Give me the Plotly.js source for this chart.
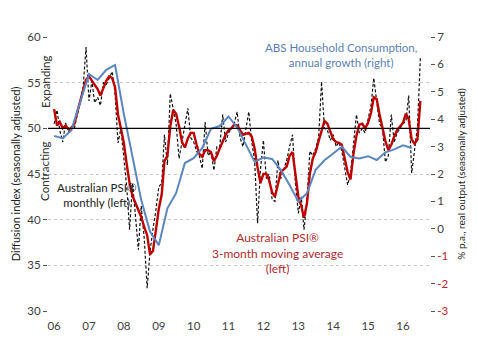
<!DOCTYPE html>
<html>
<head>
<meta charset="utf-8">
<script src="https://cdn.plot.ly/plotly-3.0.1.min.js"></script>
<style>html,body{margin:0;padding:0;background:#fff;}#chart{width:478px;height:351px;}</style>
</head>
<body>
<div id="chart"></div>
<script>
// Monthly series start Jan 2006; quarterly series start Q1 2006
const startYear = 2006;
const yearLabels = ['06','07','08','09','10','11','12','13','14','15','16'];

// Australian PSI, monthly (left axis)
const psiMonthly = [
 50.5,52.0,49.8,48.5,50.6,49.6,50.2,50.0,51.5,53.0,54.5,58.9,
 53.0,55.2,52.8,53.4,52.5,55.0,54.8,55.5,56.2,53.8,48.4,50.0,
 47.0,43.5,38.9,44.0,40.5,36.7,41.5,38.0,32.5,36.5,39.0,41.0,
 43.6,44.0,49.3,46.0,53.8,52.0,50.5,46.7,48.5,50.0,52.2,49.0,
 48.5,47.5,47.0,45.6,50.7,47.0,47.5,45.4,48.0,48.0,51.5,48.5,
 49.5,50.0,50.5,51.8,49.0,48.0,49.8,51.8,48.5,46.5,39.6,45.5,
 48.7,44.5,45.0,42.2,42.0,46.5,44.5,45.5,46.5,48.0,49.3,44.0,
 40.7,42.5,38.9,42.0,47.5,47.0,47.8,49.0,55.1,50.0,49.8,48.7,
 49.3,48.0,48.5,47.5,45.8,43.8,45.0,48.5,51.5,49.5,50.0,49.5,
 51.0,52.5,55.5,53.0,50.5,50.0,46.3,47.0,51.5,48.5,49.5,50.0,
 50.5,50.8,53.6,45.1,47.5,50.2,57.7
];

// Australian PSI, 3-month moving average (left axis)
const psi3mma = [
 52.1,50.3,50.7,50.0,50.3,49.9,50.0,50.5,51.8,53.0,54.0,55.3,
 55.7,55.2,54.7,54.3,53.6,54.4,55.2,55.7,55.5,54.5,51.5,50.0,
 48.4,46.0,44.0,42.6,41.9,41.0,40.3,39.2,38.3,36.2,36.6,38.8,
 41.2,42.8,46.4,47.0,50.2,52.0,51.6,50.2,48.5,47.9,48.9,49.5,
 49.5,48.2,47.2,46.9,47.6,47.6,47.4,46.4,47.0,47.8,48.6,49.3,
 49.8,50.0,50.4,50.3,49.8,49.3,49.4,49.5,49.1,47.8,45.7,44.0,
 45.0,45.0,44.3,43.0,42.5,43.8,45.2,45.5,45.8,47.0,47.4,45.0,
 42.5,41.5,40.2,41.8,45.0,46.7,47.4,48.6,49.8,50.8,50.5,49.6,
 48.8,48.5,48.4,48.2,46.6,45.2,44.4,47.2,49.2,50.4,50.5,50.0,
 50.6,51.7,53.4,53.2,51.5,50.0,48.6,47.6,48.2,49.1,49.8,50.2,
 50.6,51.6,51.0,48.8,48.3,48.8,53.0
];

// ABS household consumption, annual growth, quarterly (right axis, % p.a.)
const absConsumption = [
 3.39,3.30,3.60,4.60,5.65,5.43,5.80,5.98,4.19,2.62,1.05,-0.10,
 -0.60,0.75,1.30,2.40,2.58,2.95,3.65,3.75,4.10,3.70,3.10,2.45,
 2.60,2.55,2.15,1.60,0.99,1.30,2.15,2.50,2.75,3.00,2.62,2.57,
 2.65,2.51,2.79,2.90,3.05,2.95
];

function monthDate(i){
  const y = startYear + Math.floor(i/12);
  const m = (i%12)+1;
  return y + '-' + (m<10?'0':'') + m + '-01';
}
const monthlyDates = psiMonthly.map((_,i)=>monthDate(i));
const quarterlyDates = absConsumption.map((_,i)=>monthDate(i*3));
const tickDates = yearLabels.map((_,i)=>(startYear+i)+'-01-01');

const rightTicks = [-3,-2,-1,0,1,2,3,4,5,6,7];
const rightTickText = rightTicks.map(v => v<0 ? '<span style="color:#c0272d">'+v+'</span>' : String(v));

const FONT = 'Lato, "Open Sans", sans-serif';

const traces = [
 {x: quarterlyDates, y: absConsumption, yaxis:'y2', type:'scatter', mode:'lines',
  line:{color:'#5b86bf', width:2}, hoverinfo:'skip'},
 {x: monthlyDates, y: psiMonthly, type:'scatter', mode:'lines',
  line:{color:'#111111', width:1.2, dash:'3px,2px'}, hoverinfo:'skip'},
 {x: monthlyDates, y: psi3mma, type:'scatter', mode:'lines',
  line:{color:'#c00000', width:2.4}, hoverinfo:'skip'}
];

const layout = {
 width:478, height:351,
 margin:{l:48, r:48, t:37, b:40},
 paper_bgcolor:'#ffffff', plot_bgcolor:'#ffffff',
 showlegend:false,
 font:{family:FONT, size:11, color:'#404040'},
 xaxis:{type:'date', range:['2005-10-29','2016-10-10'], tickvals:tickDates, ticktext:yearLabels,
   showgrid:false, zeroline:false, showline:false, ticks:'', ticklabelstandoff:6,
   tickfont:{size:11.5, color:'#404040'}},
 yaxis:{range:[30,60], dtick:5, tick0:30, showgrid:true, gridcolor:'#c8c8c8', griddash:'dot', gridwidth:1,
   zeroline:false, showline:false, ticks:'outside', ticklen:4, tickcolor:'#555', tickfont:{size:11.5, color:'#404040'},
   title:{text:'Diffusion index (seasonally adjusted)', font:{size:11, color:'#222'}, standoff:4}},
 yaxis2:{overlaying:'y', side:'right', range:[-3,7], tickvals:rightTicks, ticktext:rightTickText,
   showgrid:false, zeroline:false, showline:false, ticks:'outside', ticklen:4, tickcolor:'#555',
   tickfont:{size:11.5, color:'#404040'},
   title:{text:'% p.a., real output (seasonally adjusted)', font:{size:10, color:'#222'}, standoff:10}},
 shapes:[
  {type:'line', xref:'paper', x0:0, x1:1, yref:'y', y0:50, y1:50, line:{color:'#000', width:1.3}}
 ],
 annotations:[
  {xref:'paper', yref:'paper', x:0.767, y:0.934, text:'ABS Household Consumption,<br>annual growth (right)',
   showarrow:false, xanchor:'center', yanchor:'middle', font:{size:11.5, color:'#5b7fb5'}},
  {xref:'paper', yref:'paper', x:0.126, y:0.423, text:'Australian PSI®<br>monthly (left)',
   showarrow:false, xanchor:'center', yanchor:'middle', font:{size:11.5, color:'#222'}},
  {xref:'paper', yref:'paper', x:0.6, y:0.21, text:'Australian PSI®<br>3-month moving average<br>(left)',
   showarrow:false, xanchor:'center', yanchor:'middle', font:{size:12, color:'#b22a2e'}},
  {xref:'paper', yref:'paper', x:-0.008, y:0.839, text:'Expanding', textangle:-90,
   showarrow:false, xanchor:'center', yanchor:'middle', font:{size:11.5, color:'#333'}},
  {xref:'paper', yref:'paper', x:-0.008, y:0.511, text:'Contracting', textangle:-90,
   showarrow:false, xanchor:'center', yanchor:'middle', font:{size:11.5, color:'#333'}}
 ]
};

Plotly.newPlot('chart', traces, layout, {staticPlot:true, displayModeBar:false});
</script>
</body>
</html>
